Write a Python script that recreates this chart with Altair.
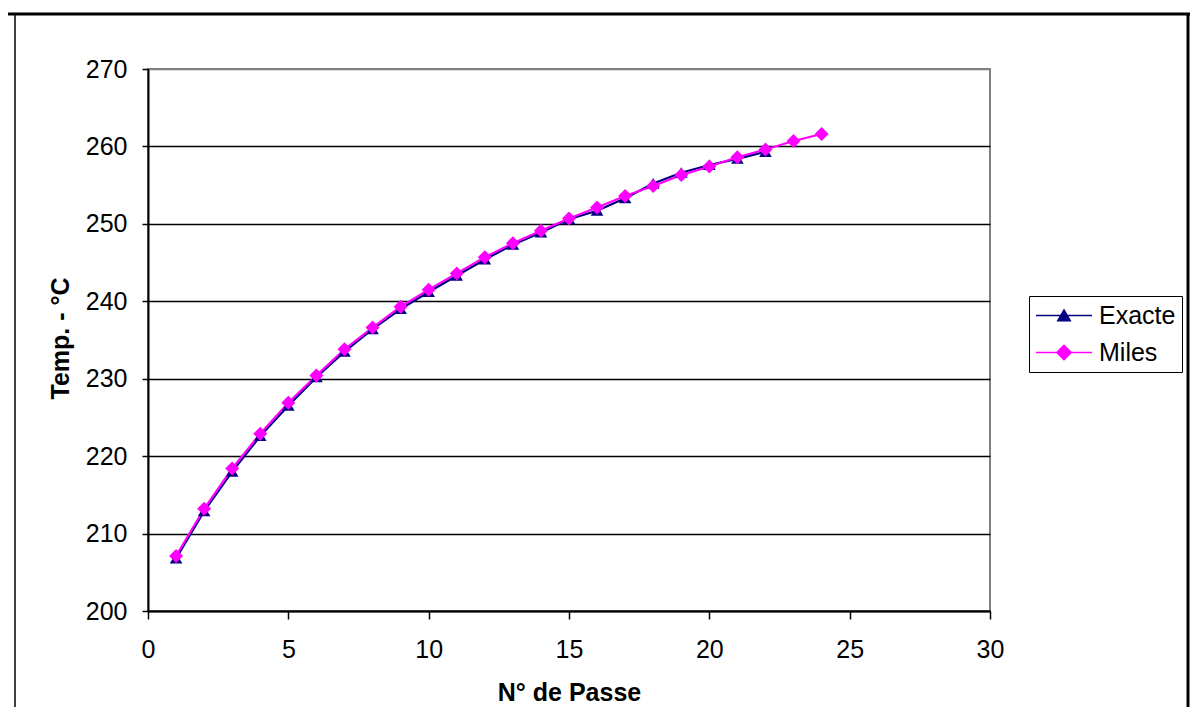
import altair as alt
import pandas as pd

# ---- data ----
passes_exacte = list(range(1, 23))
temp_exacte = [206.8, 212.9, 218.0, 222.6, 226.5, 230.2, 233.5, 236.4, 239.0, 241.2,
               243.3, 245.4, 247.3, 248.9, 250.6, 251.7, 253.3, 255.2, 256.6, 257.6,
               258.4, 259.3]
passes_miles = list(range(1, 25))
temp_miles = [207.1, 213.2, 218.4, 222.9, 226.9, 230.4, 233.8, 236.6, 239.3, 241.5,
              243.6, 245.7, 247.5, 249.1, 250.7, 252.1, 253.6, 254.9, 256.3, 257.4,
              258.6, 259.6, 260.7, 261.6]
series_names = ["Exacte", "Miles"]
series_colors = ["#000080", "#FF00FF"]
x_ticks = [0, 5, 10, 15, 20, 25, 30]
y_ticks = [200, 210, 220, 230, 240, 250, 260, 270]

rows = [{"passe": p, "temp": t, "serie": "Exacte"} for p, t in zip(passes_exacte, temp_exacte)]
rows += [{"passe": p, "temp": t, "serie": "Miles"} for p, t in zip(passes_miles, temp_miles)]
df = pd.DataFrame(rows)

FONT = "Liberation Sans"
FS = 25
W, H = 842, 542

# chart markers (unit = 7 px at size 196)
tri_chart = "M0,-0.8L0.9,0.72L-0.9,0.72Z"
dia_chart = "M0,-1L1,0L0,1L-1,0Z"
# legend symbols: line + marker (unit = 12.5 px at size 625)
tri_leg = "M-1,0L3.48,0M1.24,-0.44L1.74,0.42L0.74,0.42Z"
dia_leg = "M-1,0L3.48,0M1.24,-0.58L1.82,0L1.24,0.58L0.66,0Z"
LEG_SIZE = 625

legend = alt.Legend(title=None, orient="none", legendX=881, legendY=227,
                    labelFont=FONT, labelFontSize=FS, labelColor="black",
                    labelOffset=37, symbolSize=LEG_SIZE, rowPadding=10,
                    padding=6, strokeColor="black", fillColor="white",
                    symbolStrokeWidth=1.5)
color = alt.Color("serie:N", scale=alt.Scale(domain=series_names, range=series_colors),
                  legend=legend)
shape = alt.Shape("serie:N", scale=alt.Scale(domain=series_names, range=[tri_leg, dia_leg]),
                  legend=legend)

x = alt.X("passe:Q", scale=alt.Scale(domain=[0, 30], nice=False),
          axis=alt.Axis(values=x_ticks, title="N° de Passe", grid=False,
                        tickSize=8, tickWidth=1.5, tickColor="black",
                        domainColor="black", domainWidth=2,
                        labelFont=FONT, labelFontSize=FS, labelColor="black",
                        labelPadding=18, labelFlush=False,
                        titleFont=FONT, titleFontSize=FS, titleFontWeight="bold",
                        titleColor="black", titleBaseline="alphabetic", titleY=89))
y = alt.Y("temp:Q", scale=alt.Scale(domain=[200, 270], nice=False, zero=False),
          axis=alt.Axis(values=y_ticks, title="Temp. - °C",
                        grid=True,
                        gridColor={"condition": {"test": "datum.value >= 270", "value": "#808080"},
                                   "value": "black"},
                        gridWidth=1.5,
                        tickSize=6, tickWidth=1.5, tickColor="black",
                        domainColor="black", domainWidth=2,
                        labelFont=FONT, labelFontSize=FS, labelColor="black",
                        labelPadding=15, labelFlush=False,
                        titleFont=FONT, titleFontSize=FS, titleFontWeight="bold",
                        titleColor="black", titleAngle=270, titleBaseline="alphabetic",
                        titleAlign="center", titleX=-80, titleY=H / 2 - 2))

base = alt.Chart(df)
lines = base.mark_line(strokeWidth=2.2).encode(x=x, y=y, color=color, detail="serie:N")
pts_exacte = base.transform_filter(alt.datum.serie == "Exacte").mark_point(
    filled=True, size=196, strokeWidth=0, opacity=1, shape=tri_chart).encode(
    x="passe:Q", y="temp:Q", color=color)
pts_miles = base.transform_filter(alt.datum.serie == "Miles").mark_point(
    filled=True, size=196, strokeWidth=0, opacity=1, shape=dia_chart).encode(
    x="passe:Q", y="temp:Q", color=color)
# carries only the legend's line+marker symbols (draws nothing in the plot)
legend_layer = base.transform_filter("false").mark_point(
    filled=True, size=LEG_SIZE, strokeWidth=0, opacity=1).encode(
    x="passe:Q", y="temp:Q", color=color, shape=shape)

frame_df = pd.DataFrame({"k": [0]})
top_rule = alt.Chart(frame_df).mark_rule(color="black", strokeWidth=3).encode(
    x=alt.value(-140), x2=alt.value(1042), y=alt.value(-55))
left_rule = alt.Chart(frame_df).mark_rule(color="black", strokeWidth=1.5).encode(
    x=alt.value(-133), y=alt.value(-55), y2=alt.value(650))
right_rule = alt.Chart(frame_df).mark_rule(color="black", strokeWidth=3).encode(
    x=alt.value(1040), y=alt.value(-55), y2=alt.value(650))

chart = alt.layer(lines, pts_exacte, pts_miles, legend_layer,
                  top_rule, left_rule, right_rule).properties(
    width=W, height=H,
    autosize=alt.AutoSizeParams(type="none"),
    padding={"left": 140, "top": 61, "right": 200, "bottom": 96},
    background="white",
).configure_view(stroke="#808080", strokeWidth=2)

chart.save("out.html", embed_options={"renderer": "svg", "actions": False})
